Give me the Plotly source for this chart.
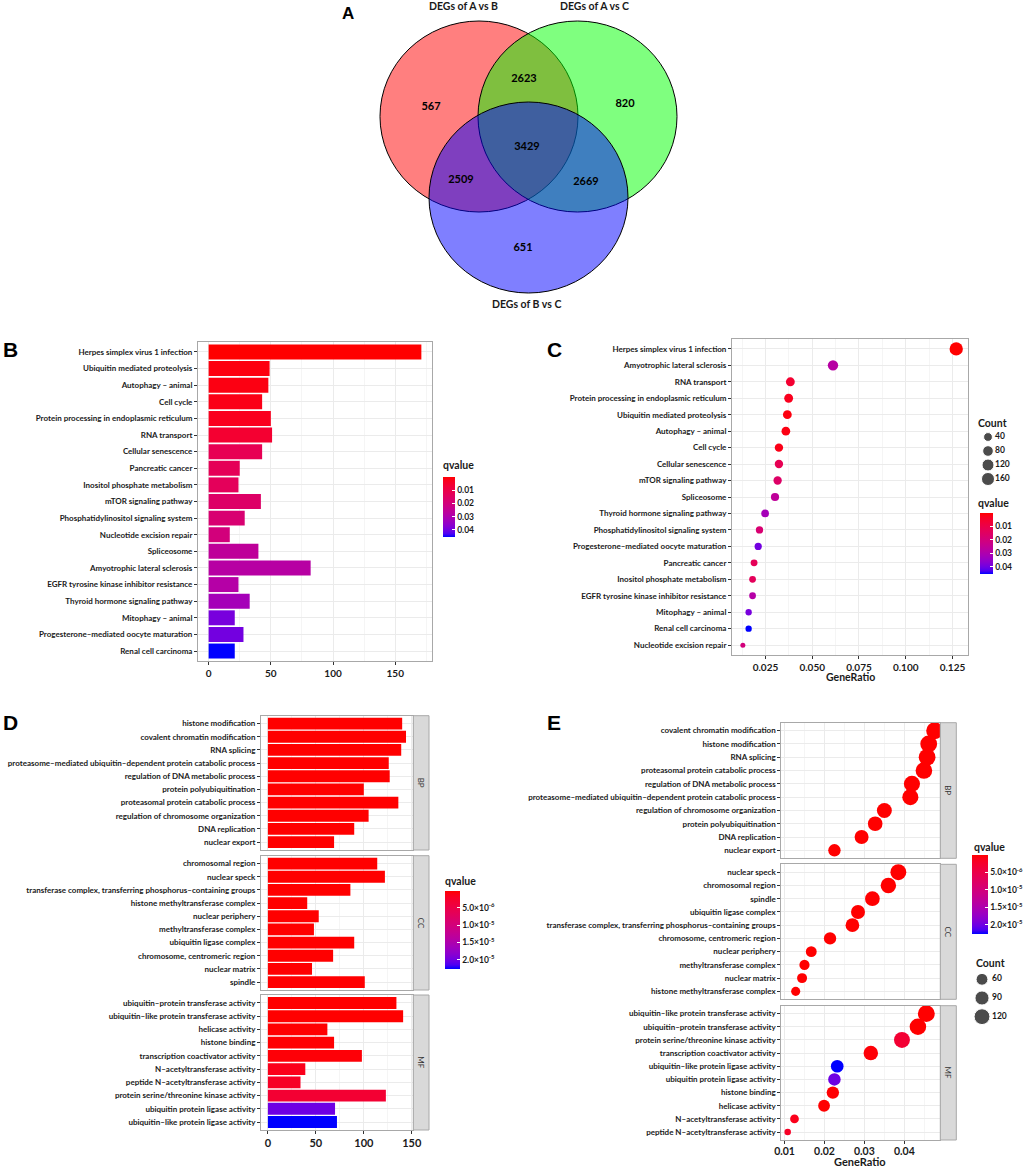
import numpy as np
import plotly.graph_objects as go

W, H = 1024, 1167


def px(x):
    return x / W


def py(y):
    return 1 - y / H


# ---------------- DATA ----------------
venn_set_names = ["DEGs of A vs B", "DEGs of A vs C", "DEGs of B vs C"]
venn_region_counts = [567, 2623, 820, 3429, 2509, 2669, 651]

kegg_terms = [
    "Herpes simplex virus 1 infection", "Ubiquitin mediated proteolysis", "Autophagy – animal",
    "Cell cycle", "Protein processing in endoplasmic reticulum", "RNA transport",
    "Cellular senescence", "Pancreatic cancer", "Inositol phosphate metabolism",
    "mTOR signaling pathway", "Phosphatidylinositol signaling system", "Nucleotide excision repair",
    "Spliceosome", "Amyotrophic lateral sclerosis", "EGFR tyrosine kinase inhibitor resistance",
    "Thyroid hormone signaling pathway", "Mitophagy – animal",
    "Progesterone–mediated oocyte maturation", "Renal cell carcinoma",
]
kegg_count = [171, 49, 48, 43, 50, 51, 43, 25, 24, 42, 29, 17, 40, 82, 24, 33, 21, 28, 21]
kegg_qvalue = [0.0002, 0.0015, 0.0018, 0.0022, 0.003, 0.006, 0.012, 0.013, 0.0135, 0.016,
               0.018, 0.020, 0.026, 0.028, 0.0285, 0.032, 0.039, 0.0395, 0.0453]
kegg_generatio = [0.1270, 0.0367, 0.0359, 0.0322, 0.0374, 0.0383, 0.0322, 0.0189, 0.0181, 0.0315,
                  0.0218, 0.0129, 0.0301, 0.0611, 0.0181, 0.0248, 0.0160, 0.0211, 0.0160]
kegg_dot_order = [
    "Herpes simplex virus 1 infection", "Amyotrophic lateral sclerosis", "RNA transport",
    "Protein processing in endoplasmic reticulum", "Ubiquitin mediated proteolysis",
    "Autophagy – animal", "Cell cycle", "Cellular senescence", "mTOR signaling pathway",
    "Spliceosome", "Thyroid hormone signaling pathway", "Phosphatidylinositol signaling system",
    "Progesterone–mediated oocyte maturation", "Pancreatic cancer", "Inositol phosphate metabolism",
    "EGFR tyrosine kinase inhibitor resistance", "Mitophagy – animal", "Renal cell carcinoma",
    "Nucleotide excision repair",
]

bp_terms = [
    "histone modification", "covalent chromatin modification", "RNA splicing",
    "proteasome–mediated ubiquitin–dependent protein catabolic process",
    "regulation of DNA metabolic process", "protein polyubiquitination",
    "proteasomal protein catabolic process", "regulation of chromosome organization",
    "DNA replication", "nuclear export",
]
bp_count = [140, 144, 139, 126, 127, 100, 136, 105, 90, 69]
bp_ratio = [0.0461, 0.0476, 0.0457, 0.0415, 0.0419, 0.0327, 0.0449, 0.0350, 0.0293, 0.0225]
bp_qvalue = [1e-12, 2e-12, 5e-12, 1e-11, 2e-11, 5e-11, 1e-10, 3e-10, 1e-9, 5e-9]
bp_dot_order = [
    "covalent chromatin modification", "histone modification", "RNA splicing",
    "proteasomal protein catabolic process", "regulation of DNA metabolic process",
    "proteasome–mediated ubiquitin–dependent protein catabolic process",
    "regulation of chromosome organization", "protein polyubiquitination",
    "DNA replication", "nuclear export",
]

cc_terms = [
    "chromosomal region", "nuclear speck",
    "transferase complex, transferring phosphorus–containing groups",
    "histone methyltransferase complex", "nuclear periphery", "methyltransferase complex",
    "ubiquitin ligase complex", "chromosome, centromeric region", "nuclear matrix", "spindle",
]
cc_count = [114, 122, 86, 41, 53, 48, 90, 68, 46, 101]
cc_ratio = [0.0360, 0.0385, 0.0270, 0.0128, 0.0167, 0.0150, 0.0284, 0.0214, 0.0144, 0.0320]
cc_qvalue = [1e-10, 2e-10, 5e-10, 1e-9, 2e-9, 4e-9, 8e-9, 1.5e-8, 3e-8, 6e-8]
cc_dot_order = [
    "nuclear speck", "chromosomal region", "spindle", "ubiquitin ligase complex",
    "transferase complex, transferring phosphorus–containing groups",
    "chromosome, centromeric region", "nuclear periphery", "methyltransferase complex",
    "nuclear matrix", "histone methyltransferase complex",
]

mf_terms = [
    "ubiquitin–protein transferase activity", "ubiquitin–like protein transferase activity",
    "helicase activity", "histone binding", "transcription coactivator activity",
    "N–acetyltransferase activity", "peptide N–acetyltransferase activity",
    "protein serine/threonine kinase activity", "ubiquitin protein ligase activity",
    "ubiquitin–like protein ligase activity",
]
mf_count = [134, 141, 62, 69, 98, 39, 34, 123, 70, 72]
mf_ratio = [0.0434, 0.0455, 0.0199, 0.0221, 0.0316, 0.0125, 0.0108, 0.0394, 0.0225, 0.0232]
mf_qvalue = [1e-9, 2e-9, 5e-8, 8e-8, 3e-7, 1.2e-6, 2.0e-6, 3.0e-6, 2.0e-5, 2.26e-5]
mf_dot_order = [
    "ubiquitin–like protein transferase activity", "ubiquitin–protein transferase activity",
    "protein serine/threonine kinase activity", "transcription coactivator activity",
    "ubiquitin–like protein ligase activity", "ubiquitin protein ligase activity",
    "histone binding", "helicase activity", "N–acetyltransferase activity",
    "peptide N–acetyltransferase activity",
]

kegg_q_ticks = [0.01, 0.02, 0.03, 0.04]
go_q_ticks = [5e-6, 1e-5, 1.5e-5, 2e-5]
go_q_ticktext = ["5.0×10<sup>-6</sup>", "1.0×10<sup>-5</sup>", "1.5×10<sup>-5</sup>", "2.0×10<sup>-5</sup>"]
kegg_count_breaks = [40, 80, 120, 160]
go_count_breaks = [60, 90, 120]

# ---------------- STYLE HELPERS ----------------
FONT = "Lato"
TXT = "#1a1a1a"
GRID = "#EBEBEB"
MINOR = "#F5F5F5"
BORDER = "#A8A8A8"


def lab_scale(n=21):
    M = np.array([[0.4124, 0.3576, 0.1805], [0.2126, 0.7152, 0.0722], [0.0193, 0.1192, 0.9505]])
    white = M @ np.ones(3)
    d = 6 / 29

    def s2l(c):
        c = np.asarray(c, float) / 255
        return np.where(c <= 0.04045, c / 12.92, ((c + 0.055) / 1.055) ** 2.4)

    def l2s(c):
        c = np.clip(c, 0, 1)
        return np.where(c <= 0.0031308, 12.92 * c, 1.055 * c ** (1 / 2.4) - 0.055) * 255

    def f(t):
        return np.where(t > d ** 3, np.cbrt(t), t / (3 * d * d) + 4 / 29)

    def finv(t):
        return np.where(t > d, t ** 3, 3 * d * d * (t - 4 / 29))

    def rgb2lab(rgb):
        fx, fy, fz = f(M @ s2l(rgb) / white)
        return np.array([116 * fy - 16, 500 * (fx - fy), 200 * (fy - fz)])

    def lab2rgb(lab):
        L, a, b = lab
        fy = (L + 16) / 116
        xyz = finv(np.array([fy + a / 500, fy, fy - b / 200])) * white
        return l2s(np.linalg.solve(M, xyz))

    lo, hi = rgb2lab([0, 0, 255]), rgb2lab([255, 0, 0])
    out = []
    for t in np.linspace(0, 1, n):
        r, g, b = lab2rgb(lo + (hi - lo) * t)
        out.append([float(t), f"rgb({r:.0f},{g:.0f},{b:.0f})"])
    return out


CSCALE = lab_scale()


def size_scale(vals, vmin, vmax, dmin, dmax):
    v = np.asarray(vals, float)
    return list(dmin + (dmax - dmin) * np.sqrt(np.clip((v - vmin) / (vmax - vmin), 0, 1)))


def cat_axis(y0, y1, cats, anchor, show=True):
    return dict(domain=[py(y1), py(y0)], anchor=anchor, type="category", automargin=False,
                categoryorder="array", categoryarray=cats[::-1],
                range=[-0.6, len(cats) - 0.4], showgrid=True, gridcolor=GRID, gridwidth=1,
                showline=True, mirror=True, linecolor=BORDER, linewidth=1,
                ticks="outside", ticklen=3, tickcolor="#333", tickwidth=1,
                showticklabels=show,
                tickfont=dict(family=FONT, size=8, color=TXT, weight="bold"), zeroline=False)


def val_axis(x0, x1, rng, tickvals, ticktext, minor_dtick, anchor, show=True, fs=10, standoff=0):
    return dict(domain=[px(x0), px(x1)], anchor=anchor, range=rng, automargin=False,
                tickvals=tickvals, ticktext=ticktext, showgrid=True, gridcolor=GRID, gridwidth=1,
                minor=dict(dtick=minor_dtick, showgrid=True, gridcolor=MINOR, gridwidth=1, ticks=""),
                showline=True, mirror=True, linecolor=BORDER, linewidth=1,
                ticks="outside" if show else "", ticklen=3, tickcolor="#333",
                showticklabels=show, zeroline=False, ticklabelstandoff=standoff,
                tickfont=dict(family=FONT, size=fs, color=TXT, weight="bold"))


def note(x, y, text, size, xanchor="center", angle=0, family=FONT, color=TXT, weight="bold"):
    return dict(x=px(x), y=py(y), xref="paper", yref="paper", text=text, showarrow=False,
                xanchor=xanchor, yanchor="middle", textangle=angle,
                font=dict(family=family, size=size, color=color, weight=weight))


fig = go.Figure()
layout = dict(width=W, height=H, margin=dict(l=0, r=0, t=0, b=0, pad=0, autoexpand=False),
              paper_bgcolor="white", plot_bgcolor="white", showlegend=False,
              font=dict(family=FONT, color=TXT))
annotations = []
shapes = []

# ---------------- PANEL A: Venn ----------------
layout["xaxis9"] = dict(domain=[px(340), px(740)], range=[340, 740], visible=False, anchor="y9")
layout["yaxis9"] = dict(domain=[py(320), py(0)], range=[320, 0], visible=False, anchor="x9")
venn_circles = [((380, 21, 578, 212), "rgba(255,0,0,0.5)"),
                ((478, 21, 677, 212), "rgba(0,255,0,0.5)"),
                ((429, 102, 628, 293), "rgba(0,0,255,0.5)")]
for (x0, y0, x1, y1), col in venn_circles:
    shapes.append(dict(type="circle", xref="x9", yref="y9", x0=x0, y0=y0, x1=x1, y1=y1,
                       fillcolor=col, line=dict(color="black", width=1), layer="below"))
venn_text_x = [431, 524, 625, 527, 461, 586, 523]
venn_text_y = [107, 79, 104, 147, 180, 182, 248]
fig.add_trace(go.Scatter(x=venn_text_x, y=venn_text_y, mode="text",
                         text=[str(v) for v in venn_region_counts], xaxis="x9", yaxis="y9",
                         textfont=dict(family=FONT, size=11, color="black", weight="bold"),
                         hoverinfo="skip"))
for name, (lx, ly) in zip(venn_set_names, [(463, 6), (594, 6), (526, 304)]):
    annotations.append(dict(x=lx, y=ly, xref="x9", yref="y9", text=name, showarrow=False,
                            xanchor="center", yanchor="middle",
                            font=dict(family=FONT, size=10.5, color=TXT, weight="bold")))

# ---------------- PANEL B: KEGG bar ----------------
fig.add_trace(go.Bar(y=kegg_terms, x=kegg_count, orientation="h", width=0.9,
                     marker=dict(color=[-q for q in kegg_qvalue], coloraxis="coloraxis", line=dict(width=0)),
                     xaxis="x", yaxis="y"))
layout["xaxis"] = val_axis(198, 432, [-8.55, 179.55], [0, 50, 100, 150], ["0", "50", "100", "150"], 25, "y")
layout["yaxis"] = cat_axis(342, 661, kegg_terms, "x")

# ---------------- PANEL C: KEGG dot ----------------
kq = dict(zip(kegg_terms, kegg_qvalue))
kc = dict(zip(kegg_terms, kegg_count))
kr = dict(zip(kegg_terms, kegg_generatio))
kmin, kmax = min(kegg_count), max(kegg_count)
fig.add_trace(go.Scatter(y=kegg_dot_order, x=[kr[t] for t in kegg_dot_order], mode="markers",
                         marker=dict(color=[-kq[t] for t in kegg_dot_order], coloraxis="coloraxis2",
                                     size=size_scale([kc[t] for t in kegg_dot_order], kmin, kmax, 5, 13.3),
                                     line=dict(width=0), opacity=1),
                         xaxis="x2", yaxis="y2", cliponaxis=False))
layout["xaxis2"] = val_axis(732, 968, [0.0071, 0.1333], [0.025, 0.05, 0.075, 0.1, 0.125],
                            ["0.025", "0.050", "0.075", "0.100", "0.125"], 0.0125, "y2")
layout["yaxis2"] = cat_axis(339, 655, kegg_dot_order, "x2")
annotations.append(note(850, 677, "GeneRatio", 10.5))

# ---------------- PANEL D: GO bar (faceted) ----------------
go_all_count = bp_count + cc_count + mf_count
go_all_q = bp_qvalue + cc_qvalue + mf_qvalue
facets_D = [(bp_terms, bp_count, bp_qvalue, 715.7, 850), (cc_terms, cc_count, cc_qvalue, 855.7, 990),
            (mf_terms, mf_count, mf_qvalue, 995, 1130)]
for i, (terms, cnt, qv, y0, y1) in enumerate(facets_D):
    n = 3 + i
    fig.add_trace(go.Bar(y=terms, x=cnt, orientation="h", width=0.9,
                         marker=dict(color=[-q for q in qv], coloraxis="coloraxis3", line=dict(width=0)),
                         xaxis=f"x{n}", yaxis=f"y{n}"))
    layout[f"xaxis{n}"] = val_axis(261, 413.3, [-7.2, 151.6], [0, 50, 100, 150], ["0", "50", "100", "150"],
                                   25, f"y{n}", show=(i == 2), fs=11)
    layout[f"yaxis{n}"] = cat_axis(y0, y1, terms, f"x{n}")
    shapes.append(dict(type="rect", xref="paper", yref="paper", x0=px(413.3), x1=px(429),
                       y0=py(y1), y1=py(y0), fillcolor="#D9D9D9", line=dict(color=BORDER, width=1)))
    annotations.append(note(421.2, (y0 + y1) / 2, ["BP", "CC", "MF"][i], 8, angle=90,
                            color="#333", weight="normal"))

# ---------------- PANEL E: GO dot (faceted) ----------------
gmin, gmax = min(go_all_count), max(go_all_count)
facets_E = [(bp_terms, bp_count, bp_qvalue, bp_ratio, bp_dot_order, 722.7, 858.3),
            (cc_terms, cc_count, cc_qvalue, cc_ratio, cc_dot_order, 864.3, 999.3),
            (mf_terms, mf_count, mf_qvalue, mf_ratio, mf_dot_order, 1005.7, 1140)]
for i, (terms, cnt, qv, rt, order, y0, y1) in enumerate(facets_E):
    n = 6 + i
    dq, dc, dr = dict(zip(terms, qv)), dict(zip(terms, cnt)), dict(zip(terms, rt))
    fig.add_trace(go.Scatter(y=order, x=[dr[t] for t in order], mode="markers",
                             marker=dict(color=[-dq[t] for t in order], coloraxis="coloraxis4",
                                         size=size_scale([dc[t] for t in order], gmin, gmax, 6.5, 17),
                                         line=dict(width=0), opacity=1),
                             xaxis=f"x{n}", yaxis=f"y{n}", cliponaxis=False))
    layout[f"xaxis{n}"] = val_axis(781.3, 940.3, [0.0092, 0.0490], [0.01, 0.02, 0.03, 0.04],
                                   ["0.01", "0.02", "0.03", "0.04"], 0.005, f"y{n}", show=(i == 2),
                                   fs=10.5, standoff=-2)
    layout[f"yaxis{n}"] = cat_axis(y0, y1, order, f"x{n}")
    shapes.append(dict(type="rect", xref="paper", yref="paper", x0=px(940.3), x1=px(956.3),
                       y0=py(y1), y1=py(y0), fillcolor="#D9D9D9", line=dict(color=BORDER, width=1)))
    annotations.append(note(948.3, (y0 + y1) / 2, ["BP", "CC", "MF"][i], 8, angle=90,
                            color="#333", weight="normal"))
annotations.append(note(860, 1161, "GeneRatio", 11))


# ---------------- COLOR AXES ----------------
def cax(qvals, ticks, ticktext, x0, y0, thick, length):
    return dict(colorscale=CSCALE, cmin=-max(qvals), cmax=-min(qvals),
                colorbar=dict(x=px(x0), xanchor="left", y=py(y0), yanchor="top",
                              thickness=thick, thicknessmode="pixels", len=length, lenmode="pixels",
                              xpad=0, ypad=0, outlinewidth=0,
                              tickvals=[-t for t in ticks], ticktext=ticktext,
                              ticks="inside", ticklen=3, tickcolor="white", tickwidth=1,
                              tickfont=dict(family=FONT, size=8.5, color=TXT, weight="bold")))


kegg_tt = [f"{t:.2f}" for t in kegg_q_ticks]
layout["coloraxis"] = cax(kegg_qvalue, kegg_q_ticks, kegg_tt, 443, 477, 12, 60)
layout["coloraxis2"] = cax(kegg_qvalue, kegg_q_ticks, kegg_tt, 980, 513, 13, 61)
layout["coloraxis3"] = cax(go_all_q, go_q_ticks, go_q_ticktext, 445, 890.7, 15, 77.6)
layout["coloraxis4"] = cax(go_all_q, go_q_ticks, go_q_ticktext, 972, 855, 16, 79)
for (x, y) in [(441, 465), (976, 503), (443, 881), (972, 847)]:
    annotations.append(note(x, y, "qvalue", 10.5, xanchor="left"))


# ---------------- COUNT LEGENDS ----------------
def count_legend(n, breaks, vmin, vmax, dmin, dmax, x0, x1, y0, y1, dot_x, txt_x, title_xy):
    cats = [str(b) for b in breaks]
    fig.add_trace(go.Scatter(x=[dot_x] * len(breaks), y=cats, mode="markers",
                             marker=dict(color="black", size=size_scale(breaks, vmin, vmax, dmin, dmax)),
                             xaxis=f"x{n}", yaxis=f"y{n}", hoverinfo="skip", cliponaxis=False))
    fig.add_trace(go.Scatter(x=[txt_x] * len(breaks), y=cats, mode="text", text=cats,
                             textposition="middle right",
                             textfont=dict(family=FONT, size=8.5, color=TXT, weight="bold"),
                             xaxis=f"x{n}", yaxis=f"y{n}", hoverinfo="skip", cliponaxis=False))
    layout[f"xaxis{n}"] = dict(domain=[px(x0), px(x1)], range=[x0, x1], visible=False, anchor=f"y{n}")
    layout[f"yaxis{n}"] = dict(domain=[py(y1), py(y0)], type="category", categoryorder="array",
                               categoryarray=cats[::-1], range=[-0.5, len(cats) - 0.5],
                               visible=False, anchor=f"x{n}")
    annotations.append(note(title_xy[0], title_xy[1], "Count", 10.5, xanchor="left"))


count_legend(10, kegg_count_breaks, kmin, kmax, 6, 13.3, 975, 1015, 430, 486, 988, 995, (976, 423))
count_legend(11, go_count_breaks, gmin, gmax, 7, 17, 970, 1015, 970, 1026, 982, 992, (974, 963))

# ---------------- PANEL LETTERS ----------------
for letter, x, y, s in [("A", 348, 13, 17), ("B", 10, 349, 21), ("C", 554, 349, 21),
                        ("D", 10, 722, 21), ("E", 554, 722, 21)]:
    annotations.append(note(x, y, letter, s, family="Liberation Sans", color="black"))

layout["annotations"] = annotations
layout["shapes"] = shapes
fig.update_layout(**layout)
fig.write_html("out.html", config={"displayModeBar": False},
               post_script="document.body.style.margin='0px';")
